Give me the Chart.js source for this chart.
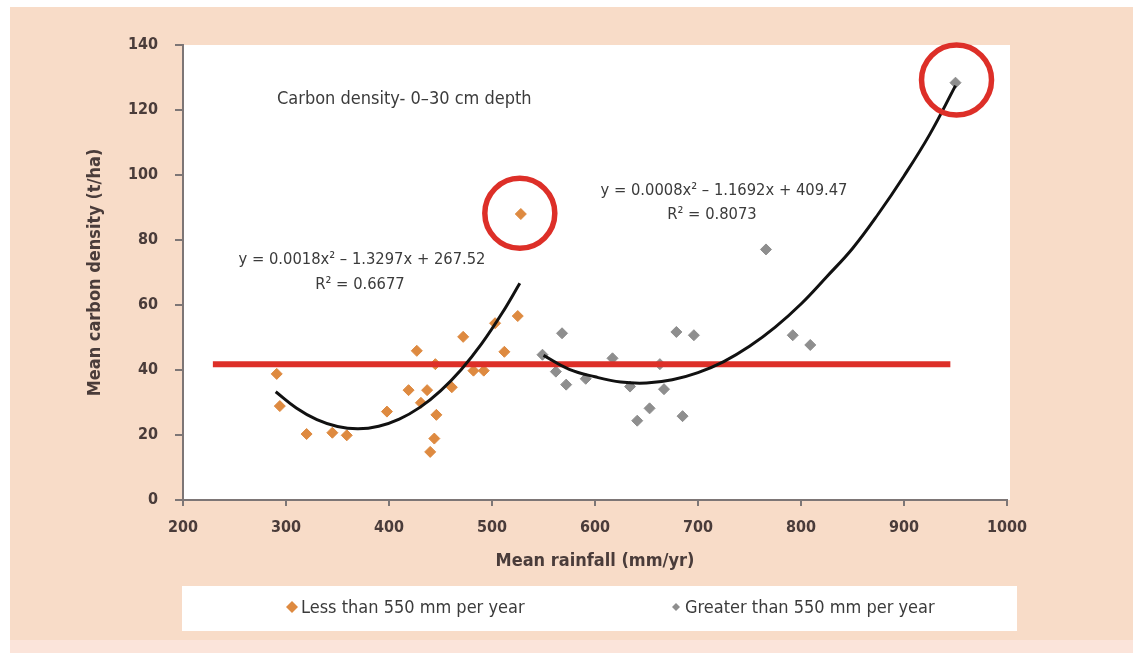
<!DOCTYPE html>
<html>
<head>
<meta charset="utf-8">
<script src="https://cdn.jsdelivr.net/npm/chart.js@4.4.1/dist/chart.umd.min.js"></script>
<style>
  html, body { margin: 0; padding: 0; background: #fff; }
  #wrap { width: 1141px; height: 653px; }
</style>
</head>
<body>
<div id="wrap"><canvas id="chart" width="1141" height="653"></canvas></div>
<script>
// Carbon density vs mean rainfall, two rainfall groups with quadratic trend lines.

const X_TICKS = [200, 300, 400, 500, 600, 700, 800, 900, 1000];
const Y_TICKS = [0, 20, 40, 60, 80, 100, 120, 140];

// sites with less than 550 mm per year
const lowRain = [291, 294, 320, 345, 359, 398, 419, 427, 431, 437, 440, 444, 445, 446, 461, 472, 482, 492, 503, 512, 525, 528];
const lowDensity = [38.8, 28.9, 20.3, 20.7, 19.9, 27.2, 33.8, 45.9, 29.9, 33.8, 14.8, 18.9, 41.8, 26.2, 34.7, 50.2, 39.8, 39.8, 54.4, 45.6, 56.6, 88];

// sites with more than 550 mm per year
const highRain = [549, 562, 568, 572, 591, 617, 634, 641, 653, 663, 667, 679, 685, 696, 766, 792, 809, 950];
const highDensity = [44.7, 39.5, 51.3, 35.5, 37.3, 43.6, 34.9, 24.4, 28.2, 41.8, 34.1, 51.7, 25.8, 50.7, 77.1, 50.7, 47.7, 128.4];

// trend curves
const lowTrendX = [290, 310, 330, 350, 370, 390, 410, 430, 450, 470, 490, 510, 527];
const lowTrendY = [33.3, 28.3, 24.7, 22.6, 21.9, 22.7, 24.9, 28.5, 33.6, 40.1, 48.1, 57.6, 66.7];
const highTrendX = [550, 575, 600, 625, 650, 675, 700, 725, 750, 775, 800, 825, 850, 875, 900, 925, 950];
const highTrendY = [44.5, 40.2, 37.9, 36.3, 36.0, 37.0, 39.2, 42.6, 47.3, 53.2, 60.3, 68.7, 77.4, 88.0, 99.7, 112.5, 127.5];

// mean line and circled outliers
const meanX = [229, 945];
const meanY = [41.8, 41.8];
const outlierX = [527, 951];
const outlierY = [88.2, 129.2];

const seriesLabels = ["Less than 550 mm per year", "Greater than 550 mm per year"];
const noteText = "Carbon density- 0\u201330 cm depth";
const lowEquation = ["y = 0.0018x\u00b2 \u2013 1.3297x + 267.52", "R\u00b2 = 0.6677"];
const highEquation = ["y = 0.0008x\u00b2 \u2013 1.1692x + 409.47", "R\u00b2 = 0.8073"];

const colors = {
  page: "#f8dcc8",
  orange: "#de8a40",
  grey: "#8e8e8e",
  red: "#dd2f28",
  curve: "#111111",
  axis: "#7d7676",
  tick: "#4a3c3a",
  text: "#3b3b3b",
};

const FONT = "'DejaVu Sans Condensed', 'Liberation Sans Narrow', sans-serif";
Chart.defaults.font.family = FONT;

const toPoints = (xs, ys) => xs.map((x, i) => ({ x, y: ys[i] }));

const backgroundPlugin = {
  id: "background",
  beforeDraw(chart) {
    const { ctx, chartArea } = chart;
    ctx.save();
    ctx.fillStyle = colors.page;
    ctx.fillRect(10, 7, 1123, 633);
    ctx.fillStyle = "#fbe4da";
    ctx.fillRect(10, 640, 1123, 13);
    ctx.fillStyle = "#ffffff";
    ctx.fillRect(chartArea.left, chartArea.top, chartArea.right - chartArea.left + 3, chartArea.bottom - chartArea.top);
    ctx.restore();
  },
};

const notesPlugin = {
  id: "notes",
  afterDatasetsDraw(chart) {
    const { ctx } = chart;
    ctx.save();
    ctx.fillStyle = colors.text;
    ctx.textBaseline = "middle";
    ctx.font = `18px ${FONT}`;
    ctx.textAlign = "left";
    ctx.fillText(noteText, 277, 99);
    ctx.textAlign = "center";
    ctx.font = `16.4px ${FONT}`;
    ctx.fillText(lowEquation[0], 362, 260);
    ctx.fillText(lowEquation[1], 360, 285);
    ctx.fillText(highEquation[0], 724, 191);
    ctx.fillText(highEquation[1], 712, 215);
    ctx.restore();
  },
};

const legendPlugin = {
  id: "boxLegend",
  afterDraw(chart) {
    const { ctx } = chart;
    const items = [
      { ds: chart.data.datasets[4], x: 292, r: 6 },
      { ds: chart.data.datasets[5], x: 676, r: 4 },
    ];
    ctx.save();
    ctx.fillStyle = "#ffffff";
    ctx.fillRect(182, 586, 835, 45);
    ctx.font = `18px ${FONT}`;
    ctx.textBaseline = "middle";
    ctx.textAlign = "left";
    items.forEach((it) => {
      ctx.fillStyle = it.ds.pointBackgroundColor;
      ctx.beginPath();
      ctx.moveTo(it.x, 607 - it.r);
      ctx.lineTo(it.x + it.r, 607);
      ctx.lineTo(it.x, 607 + it.r);
      ctx.lineTo(it.x - it.r, 607);
      ctx.closePath();
      ctx.fill();
      ctx.fillStyle = colors.text;
      ctx.fillText(it.ds.label, it.x + 9, 608);
    });
    ctx.restore();
  },
};

new Chart(document.getElementById("chart"), {
  type: "scatter",
  data: {
    datasets: [
      {
        label: "outliers",
        data: toPoints(outlierX, outlierY),
        pointStyle: "circle",
        pointRadius: 35,
        pointBorderWidth: 5.5,
        pointBorderColor: colors.red,
        pointBackgroundColor: "rgba(0,0,0,0)",
        clip: false,
        order: 0,
      },
      {
        label: "low trend",
        data: toPoints(lowTrendX, lowTrendY),
        showLine: true,
        borderColor: colors.curve,
        borderWidth: 3,
        pointRadius: 0,
        tension: 0.4,
        order: 1,
      },
      {
        label: "high trend",
        data: toPoints(highTrendX, highTrendY),
        showLine: true,
        borderColor: colors.curve,
        borderWidth: 3,
        pointRadius: 0,
        tension: 0.4,
        order: 1,
      },
      {
        label: "mean",
        data: toPoints(meanX, meanY),
        showLine: true,
        borderColor: colors.red,
        borderWidth: 6,
        pointRadius: 0,
        order: 2,
      },
      {
        label: seriesLabels[0],
        data: toPoints(lowRain, lowDensity),
        pointStyle: "rectRot",
        pointRadius: 5.5,
        pointBorderWidth: 1,
        pointBackgroundColor: colors.orange,
        pointBorderColor: colors.orange,
        order: 3,
      },
      {
        label: seriesLabels[1],
        data: toPoints(highRain, highDensity),
        pointStyle: "rectRot",
        pointRadius: 5.5,
        pointBorderWidth: 1,
        pointBackgroundColor: colors.grey,
        pointBorderColor: colors.grey,
        order: 3,
      },
    ],
  },
  options: {
    responsive: false,
    animation: false,
    layout: { padding: { top: 45, right: 134, bottom: 78, left: 0 } },
    plugins: { legend: { display: false }, tooltip: { enabled: false } },
    scales: {
      x: {
        type: "linear",
        min: X_TICKS[0],
        max: X_TICKS[X_TICKS.length - 1],
        afterBuildTicks: (scale) => { scale.ticks = X_TICKS.map((v) => ({ value: v })); },
        ticks: { padding: 12, color: colors.tick, font: { size: 16, weight: "bold" }, callback: (v) => String(v) },
        grid: { drawOnChartArea: false, tickLength: 6, color: colors.axis, lineWidth: 2 },
        border: { color: colors.axis, width: 2 },
        title: {
          display: true,
          text: "Mean rainfall (mm/yr)",
          color: colors.tick,
          font: { size: 18, weight: "bold" },
          padding: { top: 0, bottom: 3 },
        },
        afterFit: (scale) => { scale.height = 75; },
      },
      y: {
        min: Y_TICKS[0],
        max: Y_TICKS[Y_TICKS.length - 1],
        afterBuildTicks: (scale) => { scale.ticks = Y_TICKS.map((v) => ({ value: v })); },
        ticks: { padding: 17, color: colors.tick, font: { size: 16, weight: "bold" }, callback: (v) => String(v) },
        grid: { drawOnChartArea: false, tickLength: 8, color: colors.axis, lineWidth: 2 },
        border: { color: colors.axis, width: 2 },
        title: {
          display: true,
          text: "Mean carbon density (t/ha)",
          color: colors.tick,
          font: { size: 18, weight: "bold" },
          padding: { top: 85, bottom: 0 },
        },
        afterFit: (scale) => { scale.width = 183; },
      },
    },
  },
  plugins: [backgroundPlugin, notesPlugin, legendPlugin],
});
</script>
</body>
</html>
